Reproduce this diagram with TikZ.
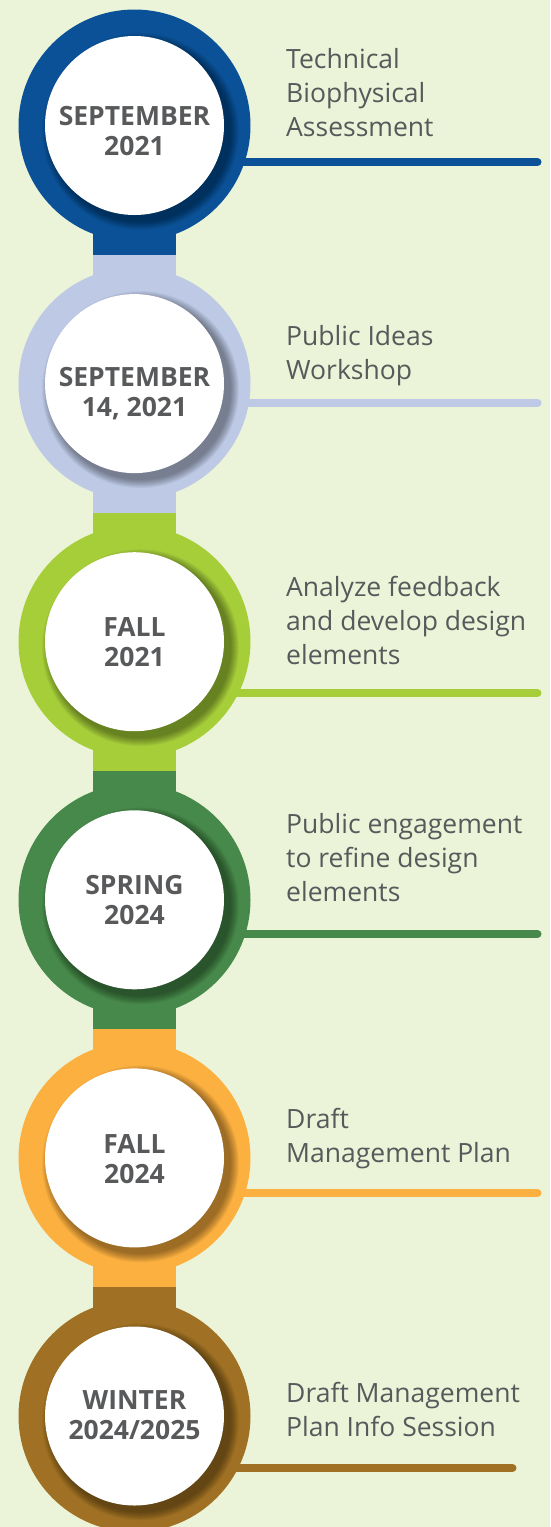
\documentclass[tikz,border=0pt]{standalone}
\usepackage{fontspec}
\setmainfont{Open Sans}
\definecolor{paper}{HTML}{EBF4D8}
\definecolor{ink}{HTML}{58595B}
\definecolor{st1}{HTML}{0B5197}
\definecolor{st2}{HTML}{BDC9E5}
\definecolor{st3}{HTML}{A6CE39}
\definecolor{st4}{HTML}{47894A}
\definecolor{st5}{HTML}{FBB040}
\definecolor{st6}{HTML}{A07124}
\pgfdeclarelayer{paper}
\pgfdeclarelayer{rails}
\pgfsetlayers{paper,rails,main}
\begin{document}
\begin{tikzpicture}[x=1pt, y=-1pt,
  ring/.style={circle, minimum size=232pt, inner sep=0pt},
  dot/.style={circle, fill=white, minimum size=179pt, inner sep=0pt},
  date/.style={align=center, text=ink, inner sep=0pt,
    font=\fontsize{26.5}{30}\selectfont\bfseries},
  rail/.style={line width=8pt, line cap=round},
  note/.style={anchor=base west, inner sep=0pt, align=left, text=ink,
    font=\fontsize{26.5}{34}\selectfont}]
\begin{pgfonlayer}{paper}
\fill[paper] (0,0) rectangle (550,1527);
\end{pgfonlayer}
\useasboundingbox (0,0) rectangle (550,1527);
% stems between the rings
\foreach \k/\a/\b in {1/125.5/254.55,2/254.55/512.65,3/512.65/770.75,
    4/770.75/1028.85,5/1028.85/1286.95,6/1286.95/1416}
  \fill[st\k] (93,\a) rectangle (176,\b);
% rings with their dates
\foreach \k/\y/\s/\d in {1/125.5/6/{SEPTEMBER\\2021},2/383.6/10/{SEPTEMBER\\14, 2021},
    3/641.7/0/{FALL\\2021},4/899.8/0/{SPRING\\2024},5/1157.9/1/{FALL\\2024},
    6/1416/-1/{WINTER\\2024/2025}} {
  \node[ring, fill=st\k] (r\k) at (134.5,\y) {};
  \foreach \i in {1,...,12}
    \fill[black, opacity=0.035] ([shift={(6,6)}]r\k.center) circle ({89.5+0.75*\i});
  \node[dot] (w\k) at (r\k) {};
  \node[date] (d\k) at ([yshift=-\s pt]w\k.center) {\d};
}
% rails and notes
\foreach \k/\l/\e/\b/\t in {1/162/537.5/136/{Technical\\Biophysical\\Assessment},
    2/403/537.5/379/{Public Ideas\\Workshop},
    3/693/537.5/664/{Analyze feedback\\and develop design\\elements},
    4/934/537.5/901/{Public engagement\\to refine design\\elements},
    5/1193/537.5/1162/{Draft\\Management Plan},
    6/1468/512.5/1436/{Draft Management\\Plan Info Session}} {
  \coordinate (e\k) at (\e,\l);
  \node[note] (t\k) at (286,\b) {\t};
  \begin{pgfonlayer}{rails}
  \draw[rail, st\k] (r\k.center |- e\k) -- (e\k);
  \end{pgfonlayer}
}
\end{tikzpicture}
\end{document}
